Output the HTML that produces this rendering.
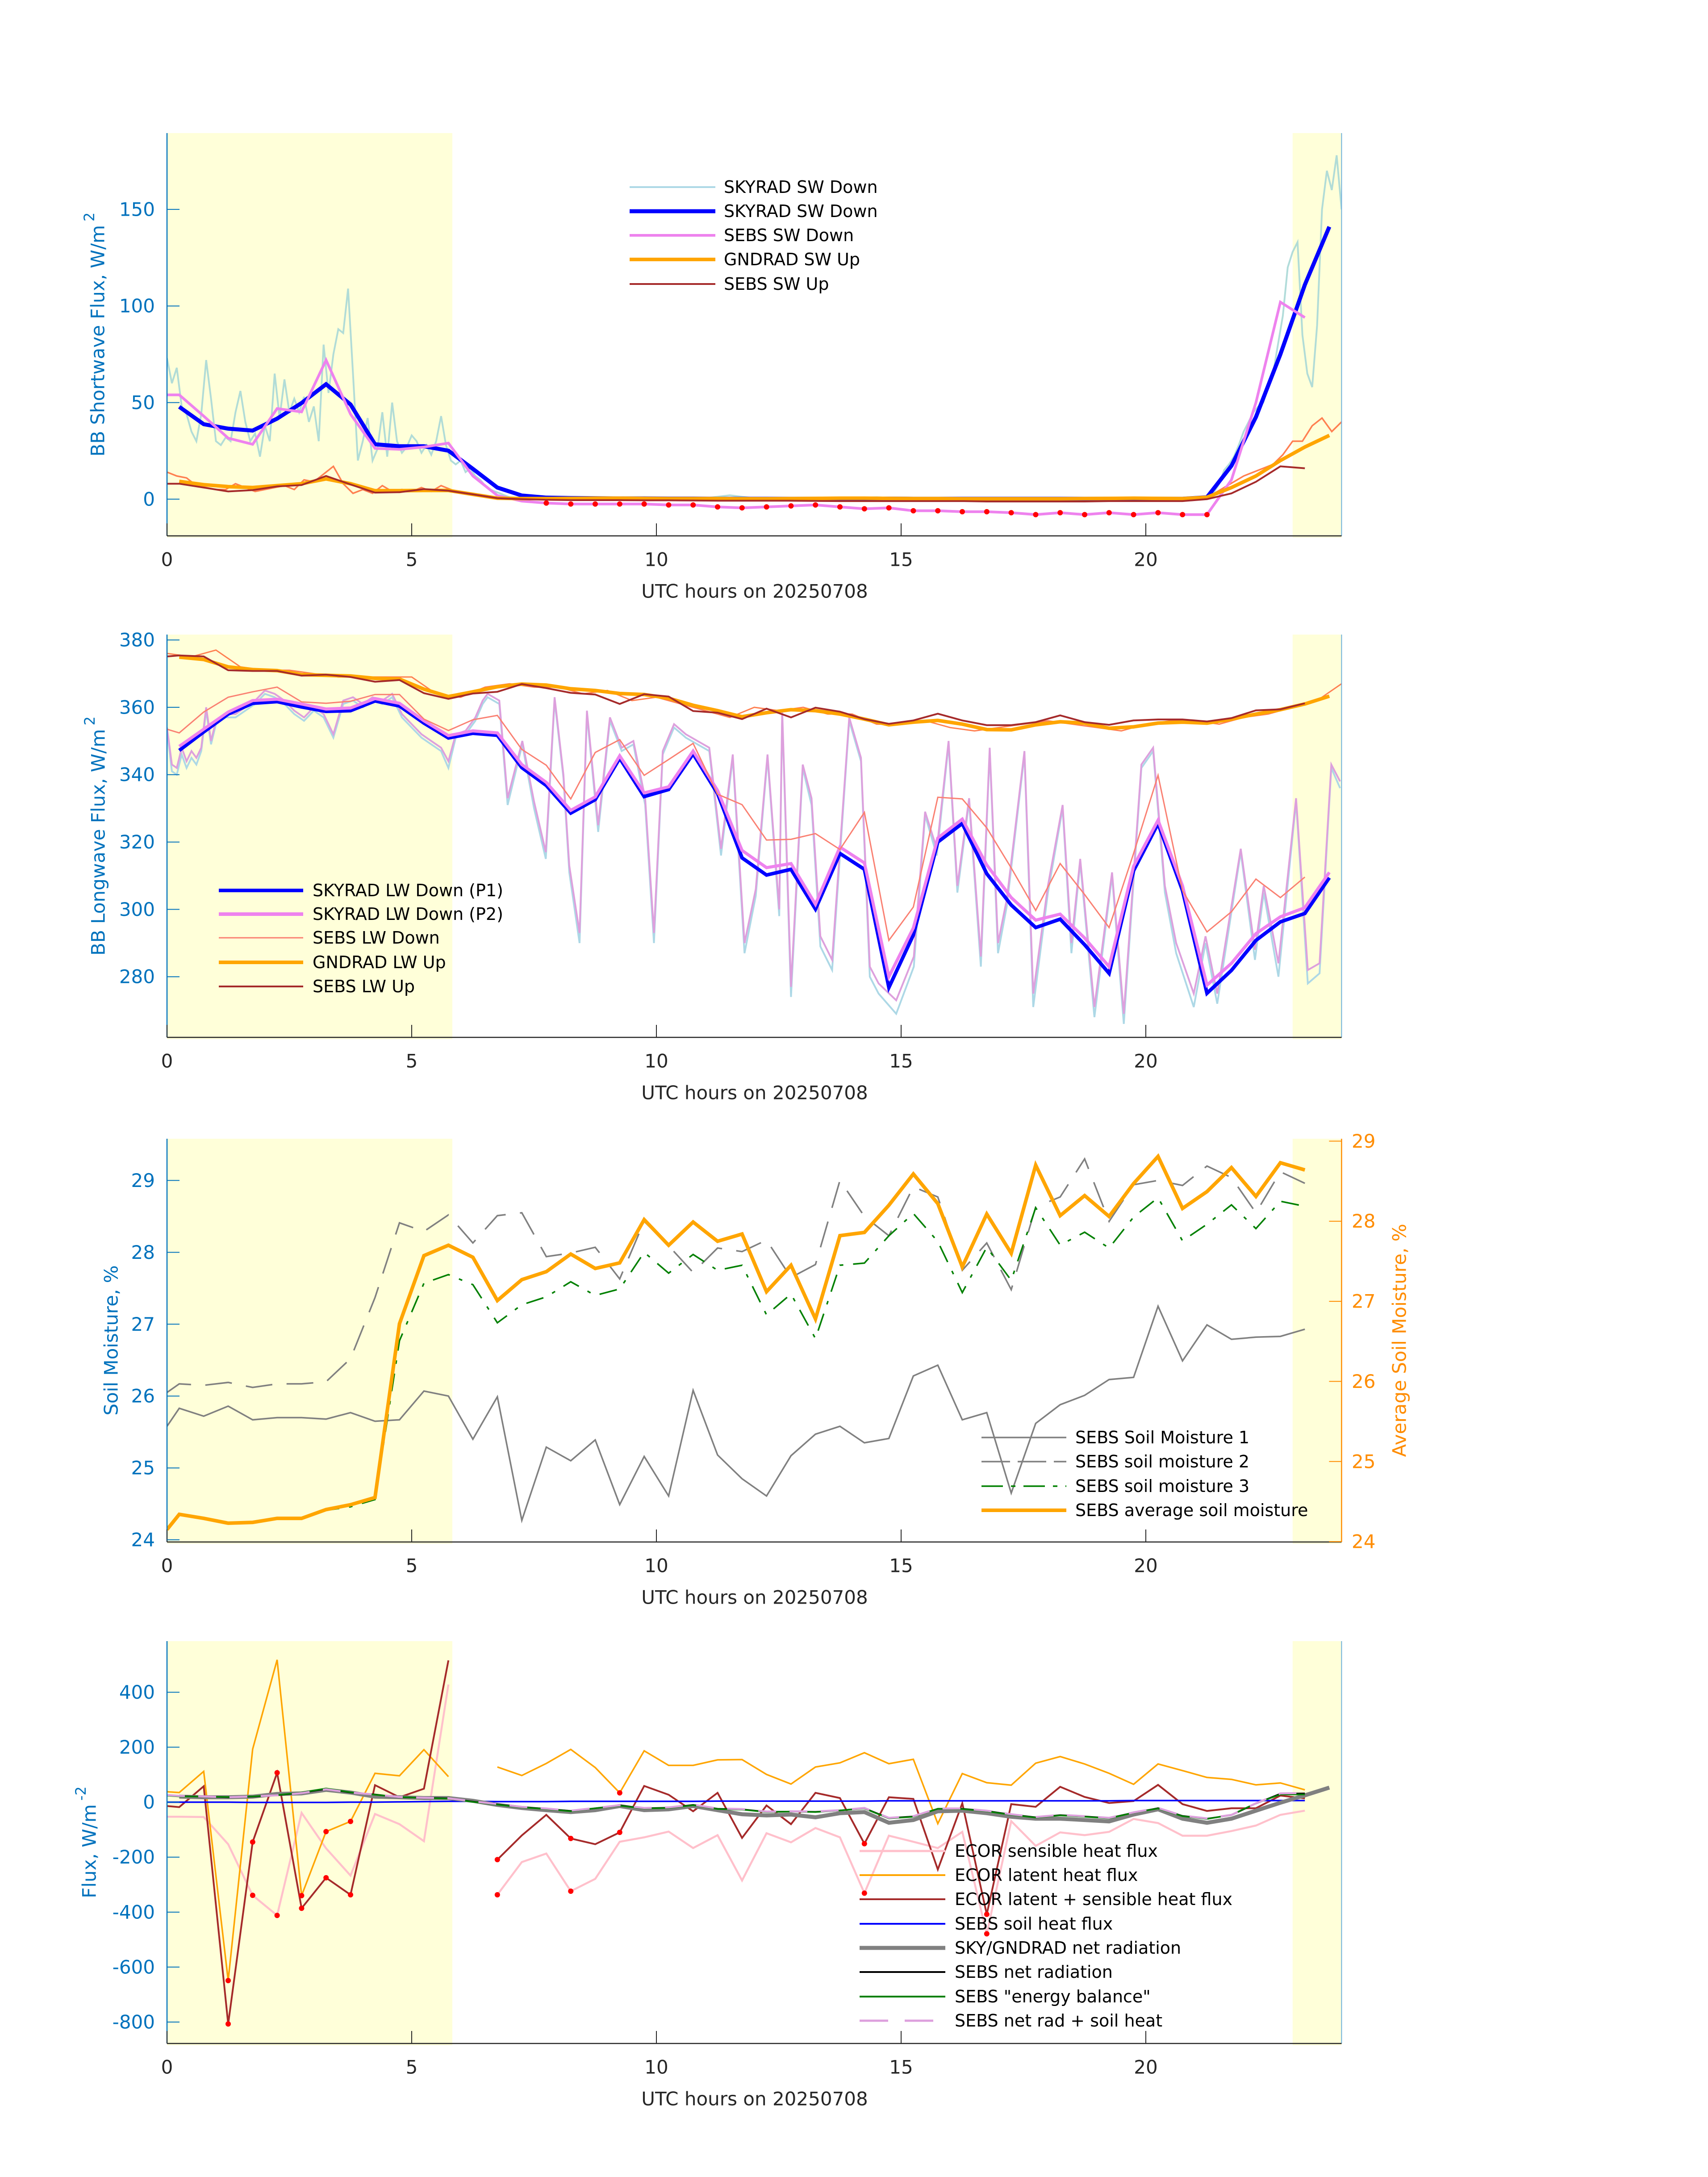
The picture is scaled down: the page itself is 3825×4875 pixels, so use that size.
<!DOCTYPE html>
<html>
<head>
<meta charset="utf-8">
<style>
  html,body{margin:0;padding:0;background:#fff;}
  svg{display:block;font-family:"DejaVu Sans","Liberation Sans",sans-serif;}
</style>
</head>
<body>
<svg id="fig" xmlns="http://www.w3.org/2000/svg" width="3825" height="4875" viewBox="0 0 3825 4875">
<rect x="0" y="0" width="3825" height="4875" fill="#ffffff"/>
</svg>
<script>
// ---------------- DATA ----------------
const xTicks = [0, 5, 10, 15, 20];
const swTicks = [0, 50, 100, 150];
const lwTicks = [280, 300, 320, 340, 360, 380];
const smTicks = [24, 25, 26, 27, 28, 29];
const smRightTicks = [24, 25, 26, 27, 28, 29];
const fluxTicks = [-800, -600, -400, -200, 0, 200, 400];
const shadeSpans = [[0, 5.83], [23.0, 24]];

// Panel 1: shortwave
const rawSwDownA = [73,60,68,48,44,35,30,44,72,52,30,28,32,30,45,56,40,30,34,22,38,30,65,42,62,45,52,45,53,40,48,30,80,55,75,88,86,109,65,20,30,42,20,26,45,22,50,30,24,27,33,30,24,28,23,30,43,28,20,18,20,14,16,12,10,7,5,4,3,2,1];
const rawSwDownMid = [1,0.5,0.5,0.5,1,0.5,0.5,0.5,0.5,2,0.5,0.5,0.5,0.5,0.5,1,0.5,0.5,0.5,0.5,0.5,0.5,0.5,0.5,0.5,0.5,0.5,0.5,0];
const rawSwDownB = [0,0.5,1,2,4,8,15,18,22,28,35,40,45,48,50,58,65,80,95,120,128,133,85,65,58,90,150,170,160,178,150];
const rawSwUpA = [14,12,11,7,6,5,5,8,6,4,5,6,7,5,10,9,13,17,8,3,5,3,7,4,5,4,6,4,7,5,3,3,2,1,0.5,0];
const rawSwUpB = [0,1,3,6,9,12,14,16,18,23,30,30,38,42,35,40];
const skySwDown = [47.8,38.8,36.5,35.5,41.7,49.8,59.5,49.0,28.4,27.4,27.4,25.1,15.7,6.0,1.9,0.8,0.6,0.5,0.4,0.4,0.3,0.3,0.2,0.2,0.2,0.2,0.2,0.3,0.3,0.3,0.2,0.2,0.2,0.2,0.2,0.2,0.2,0.2,0.2,0.2,0.2,0.2,1.0,17.3,42.5,75,111,141];
const sebsSwDown = [54,54,43,31.6,28.4,46.9,45.2,72,44,26.3,25.8,27,29,12,1.9,-1,-2,-2.5,-2.5,-2.5,-2.5,-3,-3,-4,-4.5,-4,-3.5,-3,-4,-5,-4.5,-6,-6,-6.5,-6.5,-7,-8,-7,-8,-7,-8,-7,-8,-8,10,50,102,94];
const gndSwUp = [9.2,7.5,6.5,6,7,8,10.5,8,4.4,4.4,4.5,4.5,2.5,0.5,0.3,0.3,0.4,0.5,0.5,0.4,0.3,0.3,0.3,0.2,0.2,0.3,0.4,0.5,0.5,0.4,0.3,0.3,0.2,0.2,0.2,0.2,0.2,0.3,0.4,0.5,0.4,0.3,1,6,12,20,27,33];
const sebsSwUp = [8,8,6,4,4.7,6.6,7.3,12,7.6,3.4,3.6,5.2,4.4,2.5,0.5,0,-0.3,-0.5,-0.5,-0.5,-0.6,-0.6,-0.7,-0.8,-0.8,-0.8,-0.8,-0.9,-1,-1,-1,-1,-1,-1,-1.2,-1.2,-1.2,-1.2,-1.2,-1,-1,-1,-1,0,3,9,17,16];

// Panel 2: longwave
const rawLwT = [0,0.1,0.2,0.3,0.4,0.5,0.6,0.7,0.8,0.9,1.0,1.2,1.4,1.6,1.8,2.0,2.2,2.4,2.6,2.8,3.0,3.2,3.4,3.6,3.8,4.0,4.2,4.4,4.6,4.8,5.0,5.2,5.4,5.6,5.75,5.9,6.1,6.3,6.45,6.55,6.79,6.96,7.26,7.5,7.74,7.92,8.1,8.22,8.43,8.58,8.81,9.05,9.29,9.53,9.77,9.95,10.13,10.36,10.6,10.84,11.08,11.32,11.56,11.8,12.03,12.27,12.51,12.57,12.75,12.99,13.17,13.35,13.59,13.94,14.18,14.36,14.54,14.9,15.26,15.49,15.73,15.97,16.15,16.39,16.63,16.81,16.98,17.16,17.52,17.7,18.0,18.3,18.48,18.66,18.95,19.31,19.55,19.91,20.15,20.39,20.62,20.98,21.22,21.46,21.94,22.23,22.41,22.71,23.07,23.31,23.55,23.79,23.97];
const rawLwP2 = [354,343,342,348,344,347,345,348,360,350,356,358,358,360,362,365,364,362,359,357,360,358,352,362,363,361,363,362,364,358,355,352,350,348,344,352,353,357,362,364,362,333,350,332,317,363,340,313,293,359,325,357,348,350,333,293,347,355,352,350,348,318,346,290,306,346,300,359,277,343,333,292,285,357,345,283,278,273,286,329,318,350,307,333,286,348,290,303,347,275,307,331,290,315,271,311,269,343,348,307,290,275,292,275,318,288,307,284,333,282,284,343,338];
const rawLwP1 = [353,341,340,346,342,345,343,347,359,349,355,357,357,359,361,364,363,361,358,356,359,357,351,361,362,360,362,361,363,357,354,351,349,347,342,351,352,356,361,363,361,331,349,330,315,362,339,311,290,358,323,356,347,349,331,290,346,354,351,349,347,316,345,287,304,345,298,358,274,342,331,289,282,356,344,280,275,269,283,328,316,349,305,332,283,347,287,301,346,271,305,330,287,314,268,310,266,342,347,305,287,271,290,272,317,285,305,280,332,278,281,342,336];
const rawLwGnd = [376,375,377,372,371,371,370,369,369,369,369,364,363,366,367,366,366,364,365,362,363,361,359,357,360,359,360,358,358,355,355,356,354,353,354,355,356,355,354,353,355,356,356,355,357,358,360,362,367];
const skyLwP1 = [347.2,352.7,358.0,361.2,361.7,360.1,358.8,359.0,361.9,360.4,355.3,350.9,352.3,351.7,342.1,336.8,328.6,332.6,344.9,333.5,335.6,346.2,334.4,315.3,310.2,311.9,300.1,316.6,311.9,276.8,292.4,320.0,325.5,310.6,301.3,294.6,297.1,289.5,281.0,311.5,325.5,305.6,275.1,281.9,290.8,296.3,298.8,309.4];
const skyLwP2 = [348.4,353.5,358.6,362.0,362.4,361.0,359.5,359.8,362.6,361.2,356.0,351.6,353.0,352.4,343.0,337.7,329.4,333.4,345.6,334.6,336.4,347.0,335.3,317.5,312.4,313.6,301.5,318.5,313.8,280.0,294.5,321.2,326.8,313.2,303.5,296.8,298.6,291.5,283.0,312.8,326.5,307.0,277.5,284.0,292.8,297.8,300.5,311.0];
const sebsLwDown = [353.5,352.4,358.6,363,364.6,366.0,361.6,361.2,361.8,363.8,363.8,356.5,353.1,356.3,357.6,347.5,342.8,332.8,346.6,350.4,339.8,344.5,349.3,334.2,331.1,320.6,320.8,322.5,317.8,328.8,290.8,300.7,333.3,332.8,324.2,312.3,299.7,313.6,304.4,294.6,316.6,339.8,305.6,293.3,299.3,309.0,303.5,309.6];
const gndLwUp = [374.9,374.2,372.0,371.2,370.9,369.7,369.5,369.3,368.6,368.4,365.4,363.2,364.6,366.1,366.9,366.6,365.5,365.0,364.1,363.8,362.7,360.6,359.0,357.2,358.4,359.3,359.0,358.0,356.5,354.8,355.6,356.1,355.0,353.4,353.3,354.8,355.7,355.3,353.8,354.2,355.3,355.6,355.3,356.5,358.0,359.3,361.0,363.3];
const sebsLwUp = [375.1,375.4,375.1,371.0,370.8,370.8,369.4,369.7,369.0,367.6,368.1,364.2,362.5,364.1,364.6,366.9,365.7,364.3,363.8,361.0,363.9,363.2,358.9,358.4,356.5,359.6,357.0,359.9,358.7,356.5,355.1,356.1,358.1,356.1,354.7,354.7,355.6,357.6,355.6,354.8,356.1,356.4,356.4,355.8,356.8,359.1,359.4,361.2];

// Panel 3: soil moisture
const sm1 = [25.58,25.83,25.72,25.86,25.67,25.70,25.70,25.68,25.77,25.65,25.67,26.07,26.00,25.40,25.99,24.27,25.29,25.10,25.39,24.49,25.16,24.61,26.08,25.18,24.85,24.61,25.17,25.47,25.58,25.35,25.41,26.28,26.43,25.67,25.77,24.65,25.62,25.88,26.01,26.23,26.26,27.25,26.49,26.99,26.79,26.82,26.83,26.93];
const sm2 = [26.05,26.17,26.15,26.19,26.12,26.17,26.17,26.20,26.52,27.37,28.41,28.29,28.52,28.13,28.51,28.55,27.94,27.99,28.07,27.63,28.43,28.09,27.72,28.06,28.01,28.17,27.65,27.83,29.00,28.50,28.23,28.91,28.77,27.75,28.13,27.48,28.63,28.77,29.30,28.43,28.94,29.00,28.93,29.20,29.04,28.55,29.12,28.96];
const sm3 = [24.15,24.36,24.30,24.23,24.25,24.29,24.29,24.41,24.46,24.56,26.77,27.57,27.69,27.55,27.02,27.27,27.38,27.59,27.40,27.49,28.00,27.71,27.97,27.75,27.82,27.13,27.42,26.80,27.82,27.85,28.23,28.54,28.15,27.44,28.07,27.61,28.62,28.10,28.28,28.06,28.49,28.76,28.16,28.39,28.66,28.33,28.71,28.64];
const smAvg = [24.15,24.34,24.29,24.23,24.24,24.29,24.29,24.40,24.46,24.55,26.72,27.57,27.70,27.55,27.01,27.27,27.37,27.59,27.41,27.48,28.02,27.70,27.99,27.75,27.84,27.12,27.45,26.78,27.82,27.86,28.20,28.59,28.22,27.43,28.09,27.60,28.70,28.07,28.32,28.06,28.47,28.81,28.16,28.37,28.67,28.31,28.73,28.64];

// Panel 4: fluxes
const ecorLatent = [38,35,112,-649,193,518,-340,-107,-70,105,96,191,93,null,128,97,141,192,126,34,187,134,134,154,155,101,66,128,143,180,140,156,-78,104,71,62,142,166,139,105,65,139,115,90,83,63,70,45];
const ecorSensible = [-53,-53,-54,-153,-339,-412,-39,-168,-267,-43,-80,-142,428,null,-337,-218,-187,-324,-279,-144,-128,-107,-167,-120,-285,-113,-146,-94,-128,-331,-122,-144,-167,-108,-479,-69,-159,-110,-120,-108,-61,-76,-122,-122,-105,-85,-46,-31];
const ecorSum = [-14,-18,58,-807,-145,107,-386,-275,-337,62,18,49,516,null,-209,-121,-46,-132,-153,-110,59,27,-33,34,-130,-12,-80,34,15,-151,18,12,-245,-4,-408,-7,-17,56,19,-3,4,63,-7,-32,-22,-22,24,14];
const flagLatentT = [1.25,2.75,3.25,3.75,9.25];
const flagSensibleT = [1.75,2.25,6.75,8.25,14.25,16.75];
const flagSumT = [1.25,1.75,2.25,2.75,3.25,3.75,6.75,8.25,9.25,14.25,16.75];
const sebsSoilHeat = [0,0,0,0,-1,-1,-1,-1,0,0,1,2,3,3,2,2,2,3,3,3,3,3,3,4,4,4,4,4,4,4,5,5,5,5,5,5,5,5,5,5,6,6,6,6,6,6,6,6];
const skyGndNet = [20,18,18,20,30,32,45,35,20,18,15,15,5,-10,-21,-29,-36,-29,-14,-29,-26,-14,-29,-44,-48,-45,-55,-40,-36,-75,-65,-33,-31,-40,-53,-60,-60,-65,-70,-45,-26,-60,-75,-60,-31,-2,25,53];
const sebsNet = [25,22,20,18,20,25,34,48,35,28,18,16,14,2,-8,-18,-24,-32,-22,-12,-22,-20,-10,-24,-26,-35,-34,-35,-30,-22,-58,-52,-24,-24,-32,-45,-55,-47,-52,-58,-38,-22,-50,-60,-47,-5,31,32];
const sebsEnergyBal = [24,21,20,19,21,26,35,50,36,27,19,15,13,1,-9,-19,-25,-33,-22,-13,-23,-21,-11,-25,-27,-36,-34,-36,-30,-23,-59,-53,-24,-25,-33,-46,-56,-48,-53,-59,-38,-23,-51,-61,-46,-4,28,28];
const sebsNetPlusSoil = [26,23,21,18,21,25,33,47,35,28,19,16,14,3,-7,-17,-23,-31,-21,-11,-21,-19,-9,-23,-25,-34,-33,-34,-29,-21,-57,-51,-23,-23,-31,-44,-54,-46,-51,-57,-37,-21,-49,-59,-46,-4,32,33];

// ---------------- HELPERS ----------------
const NS = "http://www.w3.org/2000/svg";
const svg = document.getElementById('fig');
const X0 = 374, XPX = 109.6, XR = X0 + 24 * XPX;
function sx(t) { return X0 + t * XPX; }
function grid(start, end, step) { const a = []; for (let t = start; t <= end + 1e-9; t += step) a.push(Math.round(t * 100) / 100); return a; }
const halfA = grid(0.25, 23.75, 0.5);            // 48 points
const half0 = [0].concat(grid(0.25, 23.25, 0.5)); // 48 points

function mk(tag, attrs, parent) {
  const el = document.createElementNS(NS, tag);
  for (const k in attrs) el.setAttribute(k, attrs[k]);
  (parent || svg).appendChild(el);
  return el;
}
function yScale(p) { return v => p.top + (p.ymax - v) / (p.ymax - p.ymin) * (p.bottom - p.top); }

function drawSeries(g, ts, vs, yf, color, w, name, dash, op) {
  let d = '', pen = false;
  for (let i = 0; i < ts.length; i++) {
    const v = vs[i];
    if (v === null || v === undefined) { pen = false; continue; }
    d += (pen ? 'L' : 'M') + sx(ts[i]).toFixed(1) + ' ' + yf(v).toFixed(1) + ' ';
    pen = true;
  }
  const el = mk('path', {d: d, fill: 'none', stroke: color, 'stroke-width': w, 'stroke-linejoin': 'miter', 'stroke-linecap': 'butt'}, g);
  
  
  if (dash) el.setAttribute('stroke-dasharray', dash);
  if (op) el.setAttribute('stroke-opacity', op);
  return el;
}
function drawDots(g, ts, vs, flagTimes, yf, name) {
  for (let i = 0; i < ts.length; i++) {
    if (vs[i] === null) continue;
    if (flagTimes.indexOf(ts[i]) < 0) continue;
    const c = mk('circle', {cx: sx(ts[i]).toFixed(1), cy: yf(vs[i]).toFixed(1), r: 6, fill: '#ff0000'}, g);
    
    
  }
}

function axesFrame(p, id, yTicks, yTitle, sup, titleX) {
  const g = mk('g', {});
  
  
  const yf = yScale(p);
  // shading
  for (const s of shadeSpans) {
    const r = mk('rect', {x: sx(s[0]), y: p.top, width: sx(s[1]) - sx(s[0]), height: p.bottom - p.top + 4, fill: '#ffffd9'}, g);
    
    
  }
  // clip
  const cp = mk('clipPath', {id: 'clip-' + id}, svg);
  mk('rect', {x: X0, y: p.top, width: XR - X0, height: p.bottom - p.top}, cp);
  const plot = mk('g', {'clip-path': 'url(#clip-' + id + ')'});
  
  
  return {g, plot, yf};
}
function axesOverlay(p, id, yTicks, yTitle, sup, titleX, rightLine) {
  const yf = yScale(p);
  const g = mk('g', {});
  
  
  // left axis
  const la = mk('line', {x1: X0, y1: p.top, x2: X0, y2: p.bottom, stroke: '#0072BD', 'stroke-width': 2.5}, g);
  
  
  if (rightLine) {
    const ra = mk('line', {x1: XR, y1: p.top, x2: XR, y2: p.bottom, stroke: '#6fb0dc', 'stroke-width': 2}, g);
    
    
  }
  const ba = mk('line', {x1: X0, y1: p.bottom, x2: XR, y2: p.bottom, stroke: '#262626', 'stroke-width': 2.5}, g);
  
  
  for (const t of xTicks) {
    const tk = mk('line', {x1: sx(t), y1: p.bottom, x2: sx(t), y2: p.bottom - 28, stroke: '#262626', 'stroke-width': 2}, g);
    
    
    const tl = mk('text', {x: sx(t), y: p.bottom + 53, 'font-size': 42, fill: '#262626', 'text-anchor': 'middle', 'dominant-baseline': 'central'}, g);
    tl.textContent = String(t);
    
    
  }
  for (const v of yTicks) {
    const tk = mk('line', {x1: X0, y1: yf(v), x2: X0 + 28, y2: yf(v), stroke: '#0072BD', 'stroke-width': 2}, g);
    
    
    const tl = mk('text', {x: 347, y: yf(v), 'font-size': 42, fill: '#0072BD', 'text-anchor': 'end', 'dominant-baseline': 'central'}, g);
    tl.textContent = String(v);
    
    
  }
  const cy = (p.top + p.bottom) / 2;
  const yt = mk('text', {x: titleX, y: cy, 'font-size': 42, fill: '#0072BD', 'text-anchor': 'middle', 'dominant-baseline': 'central', transform: 'rotate(-90 ' + titleX + ' ' + cy + ')'}, g);
  yt.textContent = yTitle;
  if (sup) {
    const ts = mk('tspan', {'baseline-shift': 'super', 'font-size': 32, dx: 8}, yt);
    ts.textContent = sup;
  }
  
  
  const xt = mk('text', {x: 1690, y: p.bottom + 124, 'font-size': 42, fill: '#262626', 'text-anchor': 'middle', 'dominant-baseline': 'central'}, g);
  xt.textContent = 'UTC hours on 20250708';
  
  
}
function legend(x1, x2, tx, rows, entries) {
  const g = mk('g', {});
  
  
  entries.forEach((e, i) => {
    const ln = mk('line', {x1: x1, y1: rows[i], x2: x2, y2: rows[i], stroke: e.c, 'stroke-width': e.w}, g);
    if (e.dash) ln.setAttribute('stroke-dasharray', e.dash);
    
    
    const t = mk('text', {x: tx, y: rows[i], 'font-size': 38, fill: '#000', 'dominant-baseline': 'central'}, g);
    t.textContent = e.label;
    
    
  });
}

// ---------------- PANEL 1 ----------------
(function () {
  const p = {top: 298, bottom: 1200, ymin: -19, ymax: 189.5};
  const a = axesFrame(p, 'sw', swTicks);
  const yf = a.yf, g = a.plot;
  const tA = grid(0, 7, 0.1), tM = grid(7, 21, 0.5), tB = grid(21, 24, 0.1);
  drawSeries(g, tA, rawSwDownA, yf, '#a9d8d6', 4, 'skyrad-sw-down-raw', null, 0.9);
  drawSeries(g, tM, rawSwDownMid, yf, '#a9d8d6', 4, 'skyrad-sw-down-raw', null, 0.9);
  drawSeries(g, tB, rawSwDownB, yf, '#a9d8d6', 4, 'skyrad-sw-down-raw', null, 0.9);
  drawSeries(g, grid(0, 7, 0.2), rawSwUpA, yf, '#ff7f50', 3.5, 'gndrad-sw-up-raw');
  drawSeries(g, grid(21, 24, 0.2), rawSwUpB, yf, '#ff7f50', 3.5, 'gndrad-sw-up-raw');
  drawSeries(g, halfA, skySwDown, yf, '#0000ff', 9, 'skyrad-sw-down-avg');
  drawSeries(g, half0, sebsSwDown, yf, '#ee82ee', 6, 'sebs-sw-down');
  drawSeries(g, halfA, gndSwUp, yf, '#ffa500', 8, 'gndrad-sw-up');
  drawSeries(g, half0, sebsSwUp, yf, '#a52a2a', 4, 'sebs-sw-up');
  const flagged = half0.filter((t, i) => sebsSwDown[i] < -1.5);
  drawDots(g, half0, sebsSwDown, flagged, yf, 'sebs-sw-down-flag');
  axesOverlay(p, 'sw', swTicks, 'BB Shortwave Flux, W/m', '2', 219, true);
  legend(1410, 1602, 1621, [419, 473, 527, 581, 636], [
    {c: '#add8e6', w: 4, label: 'SKYRAD SW Down'},
    {c: '#0000ff', w: 9, label: 'SKYRAD SW Down'},
    {c: '#ee82ee', w: 6, label: 'SEBS SW Down'},
    {c: '#ffa500', w: 8, label: 'GNDRAD SW Up'},
    {c: '#a52a2a', w: 4, label: 'SEBS SW Up'}]);
})();

// ---------------- PANEL 2 ----------------
(function () {
  const p = {top: 1421, bottom: 2323, ymin: 262, ymax: 381.6};
  const a = axesFrame(p, 'lw', lwTicks);
  const yf = a.yf, g = a.plot;
  drawSeries(g, rawLwT, rawLwP1, yf, '#add8e6', 4, 'skyrad-lw-down-p1-raw');
  drawSeries(g, rawLwT, rawLwP2, yf, '#dda0dd', 4, 'skyrad-lw-down-p2-raw');
  drawSeries(g, grid(0, 24, 0.5), rawLwGnd, yf, '#ff7f50', 3, 'gndrad-lw-up-raw');
  drawSeries(g, halfA, skyLwP1, yf, '#0000ff', 8, 'skyrad-lw-down-p1');
  drawSeries(g, halfA, skyLwP2, yf, '#ee82ee', 7, 'skyrad-lw-down-p2');
  drawSeries(g, half0, sebsLwDown, yf, '#fa8072', 3, 'sebs-lw-down');
  drawSeries(g, halfA, gndLwUp, yf, '#ffa500', 8, 'gndrad-lw-up');
  drawSeries(g, half0, sebsLwUp, yf, '#a52a2a', 4, 'sebs-lw-up');
  axesOverlay(p, 'lw', lwTicks, 'BB Longwave Flux, W/m', '2', 220, true);
  legend(490, 679, 700, [1994, 2047, 2100, 2155, 2209], [
    {c: '#0000ff', w: 8, label: 'SKYRAD LW Down (P1)'},
    {c: '#ee82ee', w: 8, label: 'SKYRAD LW Down (P2)'},
    {c: '#fa8072', w: 3, label: 'SEBS LW Down'},
    {c: '#ffa500', w: 8, label: 'GNDRAD LW Up'},
    {c: '#a52a2a', w: 4, label: 'SEBS LW Up'}]);
})();

// ---------------- PANEL 3 ----------------
(function () {
  const p = {top: 2550, bottom: 3453, ymin: 23.97, ymax: 29.58};
  const pr = {top: 2550, bottom: 3453, ymin: 23.995, ymax: 29.03};
  const a = axesFrame(p, 'sm', smTicks);
  const yf = a.yf, g = a.plot, yr = yScale(pr);
  drawSeries(g, half0, sm1, yf, '#808080', 3.5, 'sebs-soil-moisture-1');
  drawSeries(g, half0, sm2, yf, '#808080', 3.5, 'sebs-soil-moisture-2', '60,32');
  drawSeries(g, half0, sm3, yf, '#008000', 3.5, 'sebs-soil-moisture-3', '40,22,8,22');
  drawSeries(g, half0, smAvg, yr, '#ffa500', 8, 'sebs-average-soil-moisture');
  axesOverlay(p, 'sm', smTicks, 'Soil Moisture, %', null, 249, false);
  // right axis
  const g2 = mk('g', {});
  
  
  const ra = mk('line', {x1: XR, y1: p.top, x2: XR, y2: p.bottom, stroke: '#ff8c00', 'stroke-width': 2.5}, g2);
  
  
  for (const v of smRightTicks) {
    const tk = mk('line', {x1: XR - 28, y1: yr(v), x2: XR, y2: yr(v), stroke: '#ff8c00', 'stroke-width': 2}, g2);
    
    
    const tl = mk('text', {x: 3027, y: yr(v), 'font-size': 42, fill: '#ff8c00', 'dominant-baseline': 'central'}, g2);
    tl.textContent = String(v);
    
    
  }
  const cy = (p.top + p.bottom) / 2;
  const rt = mk('text', {x: 3134, y: cy, 'font-size': 42, fill: '#ff8c00', 'text-anchor': 'middle', 'dominant-baseline': 'central', transform: 'rotate(-90 3134 ' + cy + ')'}, g2);
  rt.textContent = 'Average Soil Moisture, %';
  
  
  legend(2198, 2388, 2408, [3219, 3273, 3328, 3382], [
    {c: '#808080', w: 3.5, label: 'SEBS Soil Moisture 1'},
    {c: '#808080', w: 3.5, dash: '64,17', label: 'SEBS soil moisture 2'},
    {c: '#008000', w: 3.5, dash: '48,18,10,18', label: 'SEBS soil moisture 3'},
    {c: '#ffa500', w: 8, label: 'SEBS average soil moisture'}]);
})();

// ---------------- PANEL 4 ----------------
(function () {
  const p = {top: 3675, bottom: 4576, ymin: -878, ymax: 586};
  const a = axesFrame(p, 'flux', fluxTicks);
  const yf = a.yf, g = a.plot;
  drawSeries(g, half0, ecorSensible, yf, '#ffc0cb', 4.5, 'ecor-sensible-heat-flux');
  drawSeries(g, half0, ecorLatent, yf, '#ffa500', 3.5, 'ecor-latent-heat-flux');
  drawSeries(g, half0, ecorSum, yf, '#a52a2a', 4, 'ecor-latent-plus-sensible');
  drawSeries(g, half0, sebsSoilHeat, yf, '#0000ff', 3.5, 'sebs-soil-heat-flux');
  drawSeries(g, halfA, skyGndNet, yf, '#808080', 9, 'skygndrad-net-radiation');
  drawSeries(g, half0, sebsNet, yf, '#000000', 3.5, 'sebs-net-radiation');
  drawSeries(g, half0, sebsEnergyBal, yf, '#008000', 3.5, 'sebs-energy-balance');
  drawSeries(g, half0, sebsNetPlusSoil, yf, '#dda0dd', 4.5, 'sebs-net-rad-plus-soil-heat', '40,30');
  drawDots(g, half0, ecorLatent, flagLatentT, yf, 'latent-flag-dot');
  drawDots(g, half0, ecorSensible, flagSensibleT, yf, 'sensible-flag-dot');
  drawDots(g, half0, ecorSum, flagSumT, yf, 'sum-flag-dot');
  axesOverlay(p, 'flux', fluxTicks, 'Flux, W/m', '-2', 200, true);
  legend(1925, 2117, 2138, [4145, 4199, 4253, 4308, 4362, 4416, 4471, 4525], [
    {c: '#ffc0cb', w: 5, label: 'ECOR sensible heat flux'},
    {c: '#ffa500', w: 4, label: 'ECOR latent heat flux'},
    {c: '#a52a2a', w: 4, label: 'ECOR latent + sensible heat flux'},
    {c: '#0000ff', w: 4, label: 'SEBS soil heat flux'},
    {c: '#808080', w: 9, label: 'SKY/GNDRAD net radiation'},
    {c: '#000000', w: 4, label: 'SEBS net radiation'},
    {c: '#008000', w: 4, label: 'SEBS "energy balance"'},
    {c: '#dda0dd', w: 5, dash: '64,37', label: 'SEBS net rad + soil heat'}]);
})();
</script>
</body>
</html>
